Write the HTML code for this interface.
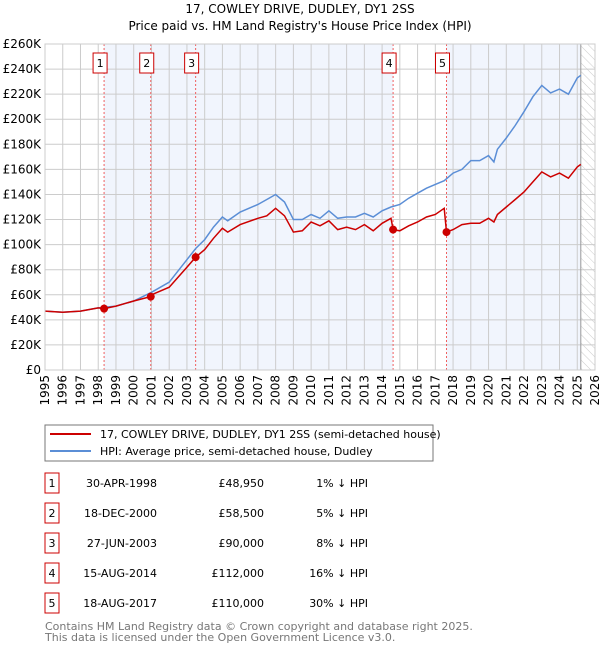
<!DOCTYPE html>
<html><head><meta charset="utf-8">
<style>
body{margin:0;background:#fff;font-family:"DejaVu Sans","Liberation Sans",sans-serif;}
svg text{font-family:"DejaVu Sans","Liberation Sans",sans-serif;}
</style></head>
<body>
<svg id="chart" width="600" height="650" viewBox="0 0 600 650" xmlns="http://www.w3.org/2000/svg">
<defs>
<pattern id="hatch" width="6" height="6" patternUnits="userSpaceOnUse" patternTransform="rotate(-45)">
<line x1="0" y1="0" x2="0" y2="6" stroke="#ccc" stroke-width="1"/>
</pattern>
</defs>
<text x="300" y="13" text-anchor="middle" font-size="12">17, COWLEY DRIVE, DUDLEY, DY1 2SS</text>
<text x="300" y="30" text-anchor="middle" font-size="12">Price paid vs. HM Land Registry's House Price Index (HPI)</text>
<g id="plot"></g>
<g>
<rect x="45" y="425" width="388" height="36" fill="#fff" stroke="#777" stroke-width="1"/>
<line x1="50" y1="434" x2="91" y2="434" stroke="#cc0000" stroke-width="2"/>
<text x="100" y="438" font-size="11">17, COWLEY DRIVE, DUDLEY, DY1 2SS (semi-detached house)</text>
<line x1="50" y1="451" x2="91" y2="451" stroke="#5b8ed6" stroke-width="2"/>
<text x="100" y="455" font-size="11">HPI: Average price, semi-detached house, Dudley</text>
</g>
<g id="table"></g>
<text x="45" y="630" font-size="11" fill="#777">Contains HM Land Registry data © Crown copyright and database right 2025.</text>
<text x="45" y="641" font-size="11" fill="#777">This data is licensed under the Open Government Licence v3.0.</text>
</svg>
<script>
const hpiYears=[1995,1996,1997,1998,1999,2000,2001,2002,2003,2003.5,2004,2004.5,2005,2005.3,2006,2007,2007.5,2008,2008.5,2009,2009.5,2010,2010.5,2011,2011.5,2012,2012.5,2013,2013.5,2014,2014.5,2015,2015.5,2016,2016.5,2017,2017.5,2018,2018.5,2019,2019.5,2020,2020.3,2020.5,2021,2021.5,2022,2022.5,2023,2023.5,2024,2024.5,2025,2025.2];
const hpiValues=[47,46,47,49.5,51,55,62,70,88,97,104,114,122,119,126,132,136,140,134,120,120,124,121,127,121,122,122,125,122,127,130,132,137,141,145,148,151,157,160,167,167,171,166,176,185,195,206,218,227,221,224,220,233,235];
const priceYears=[1995,1996,1997,1998,1998.33,1999,2000,2000.96,2001,2002,2003,2003.49,2004,2004.5,2005,2005.3,2006,2007,2007.5,2008,2008.5,2009,2009.5,2010,2010.5,2011,2011.5,2012,2012.5,2013,2013.5,2014,2014.5,2014.62,2015,2015.5,2016,2016.5,2017,2017.5,2017.63,2018,2018.5,2019,2019.5,2020,2020.3,2020.5,2021,2021.5,2022,2022.5,2023,2023.5,2024,2024.5,2025,2025.2];
const priceValues=[47,46,47,49.5,48.95,51,55,58.5,60,66,82,90,96,105,113,110,116,121,123,129,123,110,111,118,115,119,112,114,112,116,111,117,121,112,111,115,118,122,124,129,110,112,116,117,117,121,118,124,130,136,142,150,158,154,157,153,162,164];
const saleYears=[1998.33,2000.96,2003.49,2014.62,2017.63];
const saleValues=[48.95,58.5,90,112,110];
const saleLabels=["1","2","3","4","5"];
const saleDates=["30-APR-1998","18-DEC-2000","27-JUN-2003","15-AUG-2014","18-AUG-2017"];
const salePrices=["£48,950","£58,500","£90,000","£112,000","£110,000"];
const saleDiffs=["1% ↓ HPI","5% ↓ HPI","8% ↓ HPI","16% ↓ HPI","30% ↓ HPI"];
const yTicks=[0,20,40,60,80,100,120,140,160,180,200,220,240,260];
const xTicks=[1995,1996,1997,1998,1999,2000,2001,2002,2003,2004,2005,2006,2007,2008,2009,2010,2011,2012,2013,2014,2015,2016,2017,2018,2019,2020,2021,2022,2023,2024,2025,2026];

const X0=45,X1=595,Y0=370,Y1=44;
const xs=y=>X0+(y-1995)/(2026-1995)*(X1-X0);
const ys=v=>Y0-v/260*(Y0-Y1);
const NS="http://www.w3.org/2000/svg";
const plot=document.getElementById('plot');
function mk(tag,attrs,parent){const e=document.createElementNS(NS,tag);for(const k in attrs)e.setAttribute(k,attrs[k]);(parent||plot).appendChild(e);return e;}

let bg=mk('rect',{x:X0,y:Y1,width:X1-X0,height:Y0-Y1,fill:'#fff'});


const bands=[[saleYears[0],saleYears[3]],[saleYears[4],2025.2]];
bands.forEach(b=>{const r=mk('rect',{x:xs(b[0]),y:Y1,width:xs(b[1])-xs(b[0]),height:Y0-Y1,fill:'#eef3fc',opacity:0.8});

});
let h=mk('rect',{x:xs(2025.2),y:Y1,width:X1-xs(2025.2),height:Y0-Y1,fill:'url(#hatch)'});


yTicks.forEach(t=>{const l=mk('line',{x1:X0,x2:X1,y1:ys(t),y2:ys(t),stroke:'#ccc','stroke-width':1});


const tx=mk('text',{x:X0-4,y:ys(t)+4,'text-anchor':'end','font-size':12});tx.textContent=t===0?'£0':'£'+t+'K';

});
xTicks.forEach(t=>{const l=mk('line',{x1:xs(t),x2:xs(t),y1:Y1,y2:Y0,stroke:'#ccc','stroke-width':1});


const tx=mk('text',{x:0,y:0,'text-anchor':'end','font-size':12,transform:`translate(${xs(t)+4},${Y0+5}) rotate(-90)`});tx.textContent=t;

});
let nl=mk('line',{x1:xs(2025.2),x2:xs(2025.2),y1:Y1,y2:Y0,stroke:'#999','stroke-width':1});


saleYears.forEach((s,i)=>{const l=mk('line',{x1:xs(s),x2:xs(s),y1:Y1,y2:Y0,stroke:'#f06060','stroke-width':1,'stroke-dasharray':'2,2'});


const r=mk('rect',{x:xs(s)-11,y:53,width:14,height:20,fill:'#fff',stroke:'#c00','stroke-width':1});


const t=mk('text',{x:xs(s)-4,y:67,'text-anchor':'middle','font-size':11});t.textContent=saleLabels[i];

});
function line(xa,va,col,name){const p=mk('path',{d:xa.map((x,i)=>(i?'L':'M')+xs(x).toFixed(1)+','+ys(va[i]).toFixed(1)).join(''),fill:'none',stroke:col,'stroke-width':1.5});

}
line(hpiYears,hpiValues,'#5b8ed6','hpi-line');
line(priceYears,priceValues,'#cc0000','price-line');
saleYears.forEach((s,i)=>{const c=mk('circle',{cx:xs(s),cy:ys(saleValues[i]),r:4,fill:'#cc0000'});

});
let ax=mk('rect',{x:X0,y:Y1,width:X1-X0,height:Y0-Y1,fill:'none',stroke:'#ccc'});



const tbl=document.getElementById('table');
saleLabels.forEach((lab,i)=>{const y=483+i*30;
const r=mk('rect',{x:45,y:y-10,width:14,height:20,fill:'#fff',stroke:'#c00'},tbl);


const cells=[[52,'middle',lab,'row-number'],[157,'end',saleDates[i],'row-date'],[264,'end',salePrices[i],'row-price'],[368,'end',saleDiffs[i],'row-hpi-diff']];
cells.forEach(c=>{const t=mk('text',{x:c[0],y:y+4,'text-anchor':c[1],'font-size':11},tbl);t.textContent=c[2];

});});
</script>
</body></html>
